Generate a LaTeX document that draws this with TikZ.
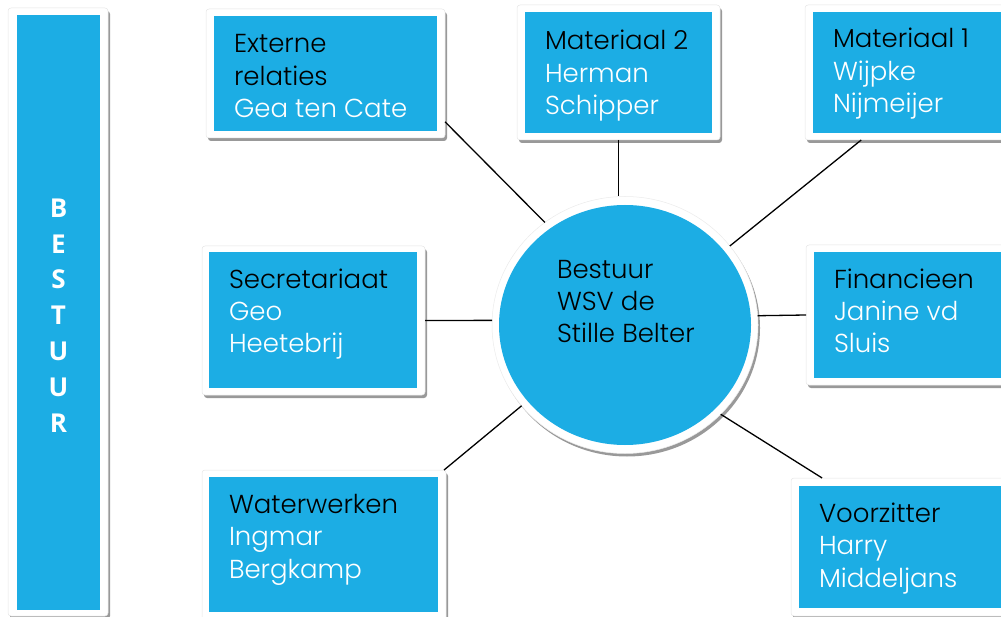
\documentclass[tikz,border=0pt]{standalone}
\usepackage{fontspec}
\setmainfont{Poppins}[UprightFont=* Light]
\newfontfamily\barfont{Open Sans}
\usetikzlibrary{shapes.geometric,shadows}
\definecolor{cblue}{HTML}{1CADE4}
\tikzset{
  frame/.style={rectangle, fill=white, draw=black!10, line width=0.5pt, rounded corners=3pt,
    drop shadow={shadow xshift=2pt, shadow yshift=-3pt, opacity=0.4, fill=black},
    inner sep=0pt, outer sep=0pt},
  inbox/.style={rectangle, fill=cblue, inner sep=0pt, outer sep=0pt},
  ttl/.style={anchor=base west, align=left, inner sep=0pt, outer sep=0pt,
    font=\fontsize{26}{32.5}\selectfont, text=black},
  conn/.style={draw=black, line width=1.3pt},
}
\newcommand{\nm}[1]{\textcolor{white}{#1}}
\begin{document}
\begin{tikzpicture}[x=1pt,y=-1pt]
\useasboundingbox (0,0) rectangle (1001,617);
% left bar
\node[frame, minimum width=100, minimum height=608] (barf) at (58,312) {};
\node[inbox, minimum width=83, minimum height=595] (barb) at (58.5,312.5) {};
\node[anchor=base, align=center, inner sep=0pt, text=white,
  font=\barfont\bfseries\fontsize{26}{35.8}\selectfont] (bartxt) at (58.5,432) {B\\E\\S\\T\\U\\U\\R};
% Externe relaties
\node[frame, minimum width=239, minimum height=129] (ext) at (325.5,73.5) {};
\node[inbox, minimum width=223, minimum height=115] (extb) at (325.5,73.5) {};
\node[ttl] (extt) at (234,118) {Externe\\relaties\\\nm{Gea ten Cate}};
% Materiaal 2
\node[frame, minimum width=203, minimum height=135] (mat2) at (618.5,72.5) {};
\node[inbox, minimum width=187, minimum height=121] (mat2b) at (618.5,72.5) {};
\node[ttl] (mat2t) at (545,115) {Materiaal 2\\\nm{Herman}\\\nm{Schipper}};
% Materiaal 1
\node[frame, minimum width=207, minimum height=135] (mat1) at (908.5,72.5) {};
\node[inbox, minimum width=191, minimum height=121] (mat1b) at (908.5,72.5) {};
\node[ttl] (mat1t) at (833,113) {Materiaal 1\\\nm{Wijpke}\\\nm{Nijmeijer}};
% Secretariaat
\node[frame, minimum width=223, minimum height=149] (sec) at (313.5,320.5) {};
\node[inbox, minimum width=208, minimum height=136] (secb) at (313,320) {};
\node[ttl] (sect) at (229,353) {Secretariaat\\\nm{Geo}\\\nm{Heetebrij}};
% Financieen
\node[frame, minimum width=206, minimum height=140] (fin) at (909,315) {};
\node[inbox, minimum width=190, minimum height=126] (finb) at (909,315) {};
\node[ttl] (fint) at (834,353) {Financieen\\\nm{Janine vd}\\\nm{Sluis}};
% Waterwerken
\node[frame, minimum width=244, minimum height=150] (wat) at (324,545) {};
\node[inbox, minimum width=229, minimum height=135] (watb) at (323.5,544.5) {};
\node[ttl] (watt) at (229,578) {Waterwerken\\\nm{Ingmar}\\\nm{Bergkamp}};
% Voorzitter
\node[frame, minimum width=221, minimum height=138] (voo) at (901.5,547) {};
\node[inbox, minimum width=205, minimum height=122] (voob) at (901.5,547) {};
\node[ttl] (voot) at (819,587) {Voorzitter\\\nm{Harry}\\\nm{Middeljans}};
% central circle
\node[ellipse, fill=white, draw=black!8, line width=0.5pt, inner sep=0pt, outer sep=0pt,
  minimum width=266, minimum height=257,
  drop shadow={shadow xshift=2pt, shadow yshift=-3pt, opacity=0.4, fill=black}] (circ) at (625,325) {};
\node[ellipse, fill=cblue, inner sep=0pt, minimum width=252, minimum height=240] (circb) at (625,325) {};
\node[ttl, font=\fontsize{26}{32}\selectfont] (circt) at (557,343) {Bestuur\\WSV de\\Stille Belter};
% connectors
\draw[conn] (ext.-22.9) -- (circ.128.5);
\draw[conn] (mat2.south) -- (mat2.south |- circ.north);
\draw[conn] (mat1.-125.7) -- (circ.37.6);
\draw[conn] (sec.east) -- (circ.178);
\draw[conn] (fin.west) -- (circ.4);
\draw[conn] (wat.32.5) -- (circ.218.7);
\draw[conn] (voo.139.75) -- (circ.-43.5);
\end{tikzpicture}
\end{document}
